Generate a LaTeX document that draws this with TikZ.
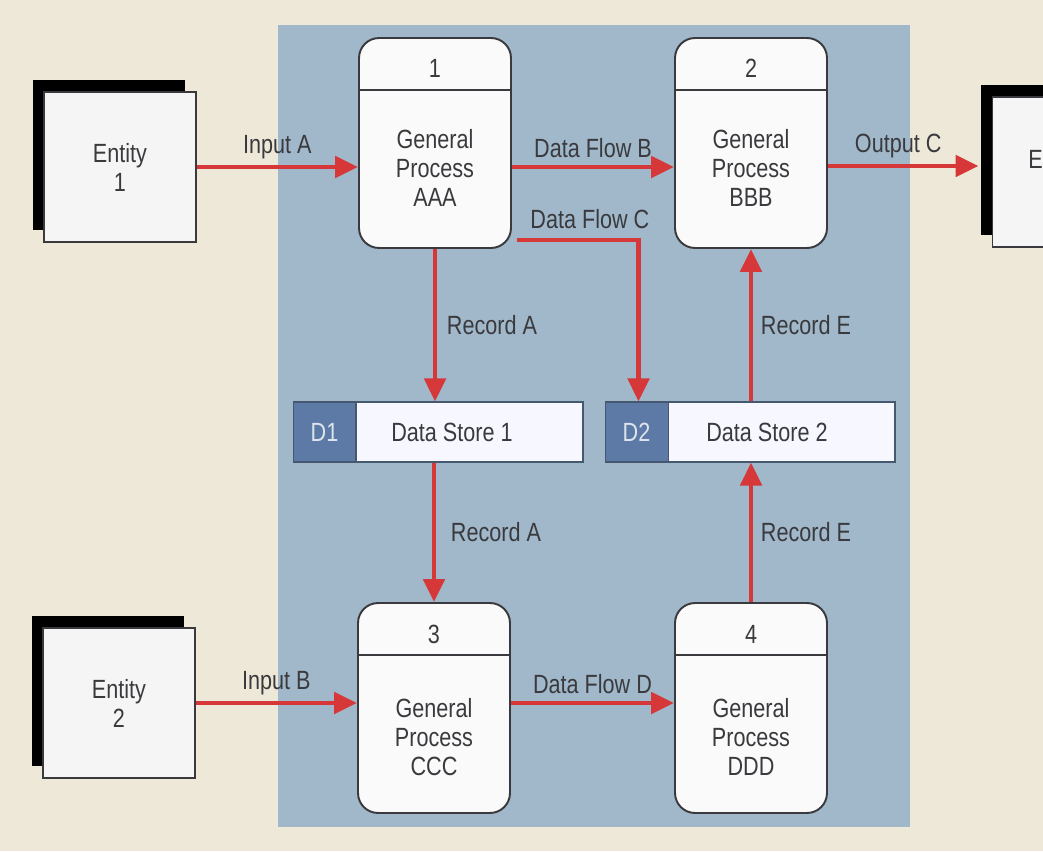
\documentclass[tikz,border=0pt]{standalone}
\usepackage{fontspec}
\setmainfont{Liberation Sans}[FakeStretch=0.82]
\usetikzlibrary{arrows.meta,calc,shadows}
\definecolor{paper}{RGB}{238,232,216}
\definecolor{panelBlue}{RGB}{160,184,202}
\definecolor{flowRed}{RGB}{214,56,58}
\definecolor{storeBlue}{RGB}{92,122,165}
\definecolor{storeEdge}{RGB}{70,88,112}
\definecolor{inkGray}{RGB}{58,58,62}
\newcommand{\pxUnit}{0.02cm}
\newcommand{\diagFont}{\fontsize{15}{16.5}\selectfont}

\begin{document}
\begin{tikzpicture}[x=\pxUnit, y=-\pxUnit,
    entity/.style={draw=inkGray, fill=white!96!black, line width=0.6pt,
      minimum width=3.04cm, minimum height=3cm, align=center,
      font=\diagFont, text=inkGray,
      general shadow={fill=black, shadow xshift=-0.22cm, shadow yshift=0.24cm}},
    proc/.style={draw=inkGray, fill=white!98!black, line width=1.1pt,
      rounded corners=0.4cm, minimum width=3.04cm, minimum height=4.2cm,
      path picture={\draw[inkGray, line width=1.1pt]
        ([yshift=-1.04cm]path picture bounding box.north west) --
        ([yshift=-1.04cm]path picture bounding box.north east);}},
    ptext/.style={align=center, font=\diagFont, text=inkGray, inner sep=0pt},
    store/.style={draw=storeEdge, fill=white!97!blue, line width=0.6pt,
      minimum width=5.8cm, minimum height=1.2cm},
    storeid/.style={draw=storeEdge, fill=storeBlue, line width=0.6pt,
      minimum width=1.26cm, minimum height=1.2cm, anchor=west,
      font=\diagFont, text=white!80!storeBlue},
    lbl/.style={font=\diagFont, text=inkGray, inner sep=2pt},
    flow/.style={draw=flowRed, line width=2.8pt,
      -{Triangle[length=0.46cm, width=0.42cm]}}]

% page and panel
\fill[paper] (0,0) rectangle (1043,851);
\useasboundingbox (0,0) rectangle (1043,851);
\clip (0,0) rectangle (1043,851);
\fill[panelBlue] (278,25) rectangle (910,827);

% external entities
\node[entity] (ent1) at (120,167) {Entity\\1};
\node[entity] (ent2) at (119,703) {Entity\\2};
\node[entity] (ent3) at (1068,172) {};
\node[ptext, anchor=east] (ent3txt) at (1043,159) {E};

% processes
\node[proc] (p1) at (435,143) {};
\node[ptext] (p1num) at (435,68) {1};
\node[ptext] (p1txt) at (435,168) {General\\Process\\AAA};
\node[proc] (p2) at (751,143) {};
\node[ptext] (p2num) at (751,68) {2};
\node[ptext] (p2txt) at (751,168) {General\\Process\\BBB};
\node[proc] (p3) at (434,708) {};
\node[ptext] (p3num) at (434,634) {3};
\node[ptext] (p3txt) at (434,737) {General\\Process\\CCC};
\node[proc] (p4) at (751,708) {};
\node[ptext] (p4num) at (751,634) {4};
\node[ptext] (p4txt) at (751,737) {General\\Process\\DDD};

% data stores
\node[store] (ds1) at (438,432) {};
\node[storeid] (d1) at (ds1.west) {D1};
\node[lbl] (ds1txt) at (452,432) {Data Store 1};
\node[store] (ds2) at (750,432) {};
\node[storeid] (d2) at (ds2.west) {D2};
\node[lbl] (ds2txt) at (767,432) {Data Store 2};

% flows
\draw[flow] (ent1.east) -- (ent1.east -| p1.west) node[lbl, midway, above=1pt] {Input A};
\draw[flow] (ent1.east -| p1.east) -- (ent1.east -| p2.west) node[lbl, midway, above=2pt] {Data Flow B};
\draw[flow] ([yshift=0.12cm]ent3.west -| p2.east) -- ([xshift=-0.26cm,yshift=0.12cm]ent3.west)
  node[lbl, midway, above=1pt, xshift=-0.1cm] {Output C};
\coordinate (flowC) at (517,240);
\draw[flow] (flowC) -| node[lbl, pos=0.3, above=3pt] {Data Flow C} ($(ds2.north west)+(34,0)$);
\draw[flow] (p1.south) -- (p1.south |- ds1.north) node[lbl, midway, right=0.12cm] {Record A};
\draw[flow] (p3.north |- ds1.south) -- (p3.north) node[lbl, midway, right=0.22cm] {Record A};
\draw[flow] (p4.north) -- (p4.north |- ds2.south) node[lbl, midway, right=0.08cm] {Record E};
\draw[flow] (p2.south |- ds2.north) -- (p2.south) node[lbl, midway, right=0.08cm] {Record E};
\draw[flow] (ent2.east) -- (ent2.east -| p3.west) node[lbl, midway, above=1pt] {Input B};
\draw[flow] (ent2.east -| p3.east) -- (ent2.east -| p4.west) node[lbl, midway, above=2pt] {Data Flow D};
\end{tikzpicture}
\end{document}
